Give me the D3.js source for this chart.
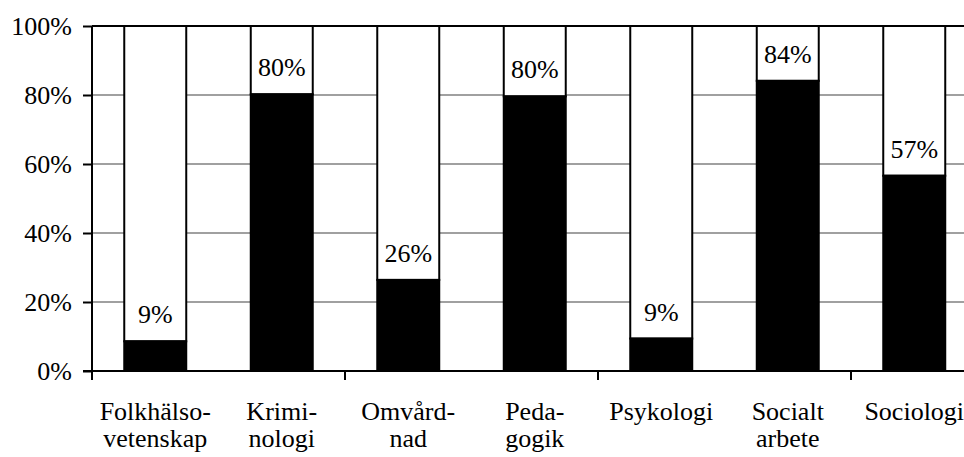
<!DOCTYPE html>
<html>
<head>
<meta charset="utf-8">
<script src="https://cdnjs.cloudflare.com/ajax/libs/d3/7.8.5/d3.min.js"></script>
</head>
<body style="margin:0; background:#fff">
<svg id="chart" width="964" height="457" font-family="Liberation Serif"></svg>
<script>
// categories, split in two lines like the original
var categories = ["Folkhälsovetenskap", "Kriminologi", "Omvårdnad", "Pedagogik", "Psykologi", "Socialt arbete", "Sociologi"];
var labelLines = [["Folkhälso-", "vetenskap"], ["Krimi-", "nologi"], ["Omvård-", "nad"], ["Peda-", "gogik"], ["Psykologi"], ["Socialt", "arbete"], ["Sociologi"]];
var shares = [8.6, 80.2, 26.4, 79.6, 9.4, 84.1, 56.6];
var yTicks = [0, 20, 40, 60, 80, 100];

var svg = d3.select("#chart");
var plotLeft = 92, plotTop = 26, plotBottom = 371;
var step = 126.5;
var fontSize = 26;
var serif = "Liberation Serif";

var x = d3.scaleBand()
    .domain(categories)
    .range([plotLeft, plotLeft + step * categories.length])
    .paddingInner(0.51)
    .paddingOuter(0.255);

var y = d3.scaleLinear()
    .domain([0, 100])
    .range([plotBottom, plotTop]);

// gridlines
svg.append("g")
    .selectAll("line")
    .data(yTicks.filter(function (d) { return d > 0; }))
    .enter()
    .append("line")
    .attr("x1", plotLeft)
    .attr("x2", 964)
    .attr("y1", function (d) { return y(d); })
    .attr("y2", function (d) { return y(d); })
    .attr("stroke", function (d) { return d === 100 ? "#000" : "#a0a0a0"; })
    .attr("stroke-width", 2);

// bars: white remainder on top, black share at bottom
var bars = svg.append("g")
    .selectAll("g")
    .data(categories)
    .enter()
    .append("g");

bars.append("rect")
    .attr("x", function (d) { return x(d); })
    .attr("width", x.bandwidth())
    .attr("y", y(100))
    .attr("height", function (d, i) { return y(shares[i]) - y(100); })
    .attr("fill", "#fff")
    .attr("stroke", "#000")
    .attr("stroke-width", 2);

bars.append("rect")
    .attr("x", function (d) { return x(d); })
    .attr("width", x.bandwidth())
    .attr("y", function (d, i) { return y(shares[i]); })
    .attr("height", function (d, i) { return y(0) - y(shares[i]); })
    .attr("fill", "#000")
    .attr("stroke", "#000")
    .attr("stroke-width", 2);

bars.append("text")
    .attr("x", function (d) { return x(d) + x.bandwidth() / 2; })
    .attr("y", function (d, i) { return y(shares[i]) - 18; })
    .attr("text-anchor", "middle")
    .attr("font-family", serif)
    .attr("font-size", fontSize)
    .attr("fill", "#000")
    .text(function (d, i) { return Math.round(shares[i]) + "%"; });

// y axis
var yAxis = svg.append("g")
    .attr("transform", "translate(" + plotLeft + ",0)")
    .call(d3.axisLeft(y).tickValues(yTicks).tickFormat(function (d) { return d + "%"; }).tickSize(9).tickPadding(11));
yAxis.attr("font-family", serif).attr("font-size", fontSize);
yAxis.select(".domain").attr("stroke-width", 2).attr("d", "M0," + y(0) + "V" + y(100));
yAxis.selectAll(".tick line").attr("stroke-width", 2);

// x axis line
svg.append("line")
    .attr("x1", plotLeft - 9)
    .attr("x2", 964)
    .attr("y1", y(0))
    .attr("y2", y(0))
    .attr("stroke", "#000")
    .attr("stroke-width", 2);

// x ticks every second category boundary
var boundary = categories.filter(function (d, i) { return i % 2 === 0; });
svg.append("g")
    .selectAll("line")
    .data(boundary)
    .enter()
    .append("line")
    .attr("x1", function (d) { return x(d) - x.step() * x.paddingInner() / 2; })
    .attr("x2", function (d) { return x(d) - x.step() * x.paddingInner() / 2; })
    .attr("y1", y(0))
    .attr("y2", y(0) + 9)
    .attr("stroke", "#000")
    .attr("stroke-width", 2);

// category labels
var catText = svg.append("g")
    .selectAll("text")
    .data(categories)
    .enter()
    .append("text")
    .attr("text-anchor", "middle")
    .attr("font-family", serif)
    .attr("font-size", fontSize)
    .attr("fill", "#000");

catText.selectAll("tspan")
    .data(function (d, i) { return labelLines[i].map(function (t) { return { t: t, c: d }; }); })
    .enter()
    .append("tspan")
    .attr("x", function (d) { return x(d.c) + x.bandwidth() / 2; })
    .attr("y", function (d, j) { return 420 + j * 27; })
    .text(function (d) { return d.t; });
</script>
</body>
</html>
